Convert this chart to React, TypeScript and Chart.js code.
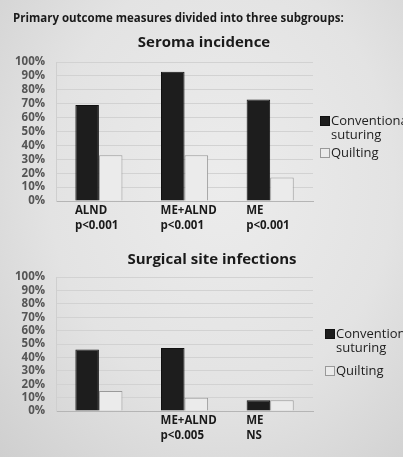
import React, { useEffect, useRef } from "react";
import { Chart, registerables } from "chart.js";

Chart.register(...registerables);

const seromaLabels: string[][] = [["ALND", "p<0.001"], ["ME+ALND", "p<0.001"], ["ME", "p<0.001"]];
const seromaConventional = [69, 93, 73];
const seromaQuilting = [33, 33, 17];

const ssiLabels: string[][] = [[""], ["ME+ALND", "p<0.005"], ["ME", "NS"]];
const ssiConventional = [46, 47, 8];
const ssiQuilting = [15, 10, 8];

const seriesNames = ["Conventional suturing", "Quilting"];
const yTicks = [0, 10, 20, 30, 40, 50, 60, 70, 80, 90, 100];

const FONT = "'Open Sans', 'Liberation Sans', sans-serif";
const DARK = "#1d1d1d";
const LIGHT = "#ebebeb";

function BarChart(props: {
  labels: string[][];
  a: number[];
  b: number[];
  top: number;
  height: number;
  padTop: number;
  padBottom: number;
  tickPad: number;
}) {
  const ref = useRef<HTMLCanvasElement | null>(null);
  useEffect(() => {
    if (!ref.current) return;
    const chart = new Chart(ref.current, {
      type: "bar",
      data: {
        labels: props.labels,
        datasets: [
          {
            label: seriesNames[0],
            data: props.a,
            backgroundColor: DARK,
            borderColor: "#111",
            borderWidth: 1,
            barPercentage: 1,
            categoryPercentage: 0.55,
          },
          {
            label: seriesNames[1],
            data: props.b,
            backgroundColor: LIGHT,
            borderColor: "#9a9a9a",
            borderWidth: 1,
            barPercentage: 1,
            categoryPercentage: 0.55,
          },
        ],
      },
      options: {
        animation: false,
        responsive: false,
        maintainAspectRatio: false,
        layout: { padding: { left: 4, right: 90, top: props.padTop, bottom: props.padBottom } },
        plugins: {
          legend: { display: false },
          tooltip: { enabled: false },
          title: { display: false },
        },
        scales: {
          x: {
            grid: { display: false, drawTicks: false, tickLength: 0 },
            border: { display: true, color: "#b5b5b5" },
            ticks: {
              align: "start",
              labelOffset: -24,
              maxRotation: 0,
              autoSkip: false,
              color: "#1a1a1a",
              padding: props.tickPad,
              font: { family: FONT, size: 11.5, weight: "bold", lineHeight: 1.3 },
            },
          },
          y: {
            min: 0,
            max: 100,
            afterBuildTicks: (axis: any) => {
              axis.ticks = yTicks.map((v) => ({ value: v }));
            },
            grid: { color: "#d2d2d2", drawTicks: false },
            border: { display: true, color: "#cfcfcf" },
            ticks: {
              autoSkip: false,
              color: "#555",
              padding: 11,
              font: { family: FONT, size: 11.5, weight: "bold" },
              callback: (v: any) => v + "%",
            },
          },
        },
      },
    });
    return () => chart.destroy();
  }, []);
  return (
    <canvas
      ref={ref}
      width={403}
      height={props.height}
      style={{ position: "absolute", left: 0, top: props.top, width: 403, height: props.height }}
    />
  );
}

function Legend(props: { top: number; left: number; gap: number }) {
  const box = (fill: string, border: string) => (
    <span
      style={{
        display: "block",
        width: 8,
        height: 8,
        background: fill,
        border: `1px solid ${border}`,
      }}
    />
  );
  const text: React.CSSProperties = {
    position: "absolute",
    left: 11,
    fontFamily: FONT,
    fontSize: 13,
    color: "#222",
    whiteSpace: "nowrap",
    lineHeight: "14px",
  };
  return (
    <div style={{ position: "absolute", top: props.top, left: props.left, width: 120, height: 70 }}>
      <div style={{ position: "absolute", top: 3, left: 0 }}>{box(DARK, "#111")}</div>
      <div style={{ ...text, top: 0 }}>Conventional</div>
      <div style={{ ...text, top: 14 }}>suturing</div>
      <div style={{ position: "absolute", top: props.gap + 3, left: 0 }}>{box(LIGHT, "#999")}</div>
      <div style={{ ...text, top: props.gap }}>Quilting</div>
    </div>
  );
}

function Title(props: { text: string; cx: number; cy: number }) {
  return (
    <div
      style={{
        position: "absolute",
        left: props.cx - 150,
        width: 300,
        top: props.cy - 11,
        height: 22,
        lineHeight: "22px",
        textAlign: "center",
        fontFamily: FONT,
        fontWeight: 700,
        fontSize: 15,
        color: "#1a1a1a",
        whiteSpace: "nowrap",
      }}
    >
      {props.text}
    </div>
  );
}

export default function App() {
  return (
    <div
      style={{
        position: "fixed",
        left: 0,
        top: 0,
        width: 403,
        height: 457,
        overflow: "hidden",
        background: "radial-gradient(ellipse at 55% 40%, #ececec 0%, #e3e3e3 55%, #cfcfcf 100%)",
      }}
    >
      <div
        style={{
          position: "absolute",
          left: 13,
          top: 10,
          fontFamily: FONT,
          fontWeight: 700,
          fontSize: 11.5,
          color: "#1a1a1a",
          whiteSpace: "nowrap",
        }}
      >
        Primary outcome measures divided into three subgroups:
      </div>
      <Title text="Seroma incidence" cx={204} cy={41} />
      <BarChart
        labels={seromaLabels}
        a={seromaConventional}
        b={seromaQuilting}
        top={28}
        height={207}
        padTop={34}
        padBottom={0}
        tickPad={2}
      />
      <Legend top={113} left={320} gap={32} />
      <Title text="Surgical site infections" cx={212} cy={258} />
      <BarChart
        labels={ssiLabels}
        a={ssiConventional}
        b={ssiQuilting}
        top={242}
        height={215}
        padTop={35}
        padBottom={12}
        tickPad={2}
      />
      <Legend top={326} left={325} gap={37} />
    </div>
  );
}
